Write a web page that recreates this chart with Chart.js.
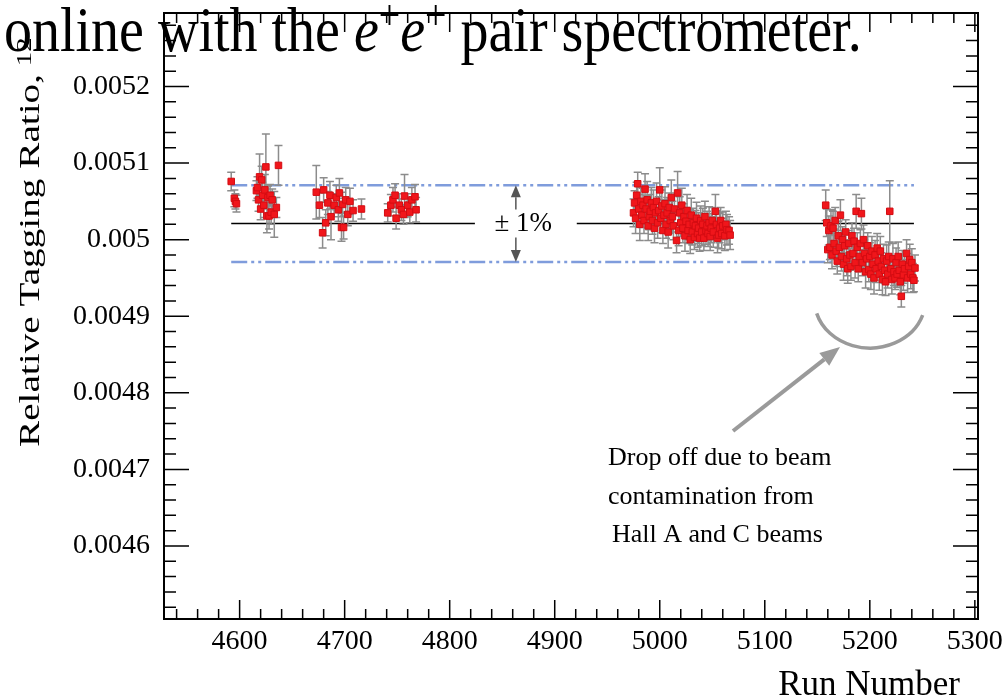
<!DOCTYPE html>
<html>
<head>
<meta charset="utf-8">
<script src="https://cdn.jsdelivr.net/npm/chart.js@4.4.1/dist/chart.umd.min.js"></script>
<style>
  html, body { margin: 0; padding: 0; background: #fff; }
  #wrap { width: 1006px; height: 700px; }
</style>
</head>
<body>
<div id="wrap"><canvas id="myChart" width="1006" height="700"></canvas></div>
<script>
'use strict';
// run numbers, tagging ratio and its error bar (one cluster per block)
let runs = [
  4592, 4595, 4596, 4597,
  4616, 4617, 4618, 4619, 4620, 4621, 4622, 4623, 4624, 4625,
  4626, 4627, 4628, 4629, 4630, 4631, 4633, 4635, 4637,
  4673, 4676, 4679, 4680, 4682, 4684, 4686, 4687, 4690, 4692,
  4694, 4695, 4697, 4698, 4699, 4701, 4703, 4705, 4708, 4716,
  4741, 4744, 4746, 4748, 4749, 4752, 4754, 4756, 4757, 4760,
  4762, 4764, 4767, 4768,
  4975, 4976, 4977, 4978, 4979, 4980, 4981, 4982, 4983, 4984,
  4985, 4986, 4987, 4988, 4989, 4990, 4991, 4992, 4993, 4994,
  4995, 4996, 4997, 4998, 4999, 5000, 5001, 5002, 5003, 5004,
  5005, 5006, 5007, 5008, 5009, 5010, 5011, 5012, 5013, 5014,
  5016, 5017, 5018, 5019, 5020, 5021, 5022, 5023, 5024, 5025,
  5026, 5027, 5028, 5029, 5030, 5031, 5032, 5033, 5034, 5035,
  5036, 5037, 5038, 5039, 5040, 5041, 5042, 5043, 5044, 5045,
  5046, 5047, 5048, 5049, 5050, 5051, 5053, 5054, 5055, 5056,
  5057, 5058, 5059, 5060, 5062, 5063, 5064, 5066, 5067,
  5158, 5159, 5160, 5161, 5162, 5163, 5164, 5165, 5166, 5167,
  5168, 5169, 5170, 5171, 5172, 5173, 5174, 5175, 5176, 5177,
  5178, 5179, 5180, 5181, 5182, 5183, 5184, 5185, 5186, 5187,
  5188, 5189, 5190, 5191, 5192, 5193, 5194, 5195, 5196, 5197,
  5198, 5199, 5200, 5201, 5202, 5203, 5204, 5205, 5206, 5207,
  5208, 5209, 5210, 5211, 5212, 5213, 5214, 5215, 5216, 5217,
  5218, 5219, 5220, 5221, 5222, 5223, 5224, 5225, 5226, 5227,
  5228, 5229, 5230, 5231, 5232, 5233, 5235, 5236, 5237, 5238,
  5239, 5240, 5241, 5242, 5243
];
let ratios = [
  0.005076, 0.005054, 0.005050, 0.005047,
  0.005064, 0.005068, 0.005052, 0.005082, 0.005040, 0.005078, 0.005058, 0.005045, 0.005065, 0.005095,
  0.005031, 0.005055, 0.005031, 0.005058, 0.005036, 0.005052, 0.005033, 0.005042, 0.005097,
  0.005062, 0.005045, 0.005009, 0.005065, 0.005022, 0.005048, 0.005058, 0.005030, 0.005045, 0.005055,
  0.005039, 0.005061, 0.005016, 0.005046, 0.005016, 0.005052, 0.005033, 0.005050, 0.005038, 0.005040,
  0.005035, 0.005045, 0.005052, 0.005058, 0.005028, 0.005045, 0.005039, 0.005033, 0.005057, 0.005045,
  0.005036, 0.005052, 0.005056, 0.005039,
  0.005035, 0.005048, 0.005028, 0.005058, 0.005073, 0.005040, 0.005020, 0.005050, 0.005032, 0.005045,
  0.005025, 0.005066, 0.005040, 0.005052, 0.005018, 0.005030, 0.005037, 0.005048, 0.005025, 0.005042,
  0.005015, 0.005035, 0.005050, 0.005022, 0.005038, 0.005065, 0.005028, 0.005044, 0.005012, 0.005032,
  0.005047, 0.005020, 0.005035, 0.005010, 0.005042, 0.005025, 0.005055, 0.005030, 0.005018, 0.005040,
  0.004999, 0.005061, 0.005012, 0.005035, 0.005022, 0.005045, 0.005015, 0.005030, 0.005005, 0.005024,
  0.005038, 0.005012, 0.005020, 0.005000, 0.005032, 0.005010, 0.005022, 0.005003, 0.005018, 0.005028,
  0.005008, 0.005015, 0.005002, 0.005025, 0.005010, 0.005020, 0.005002, 0.005030, 0.005012, 0.005018,
  0.005008, 0.005022, 0.005004, 0.005015, 0.005025, 0.005010, 0.005037, 0.005020, 0.005002, 0.005006,
  0.005015, 0.005025, 0.005008, 0.005018, 0.005005, 0.005020, 0.005013, 0.005012, 0.005006,
  0.005045, 0.005022, 0.004987, 0.005012, 0.004990, 0.005018, 0.004980, 0.005015, 0.004995, 0.005025,
  0.004985, 0.004972, 0.005005, 0.004990, 0.005032, 0.004978, 0.005000, 0.004968, 0.004992, 0.005010,
  0.004975, 0.004962, 0.004995, 0.004980, 0.004965, 0.005005, 0.004982, 0.004998, 0.004970, 0.005037,
  0.004990, 0.004962, 0.004978, 0.004995, 0.005034, 0.004970, 0.005000, 0.004982, 0.004958, 0.004975,
  0.004992, 0.004961, 0.004978, 0.004955, 0.004985, 0.004968, 0.004950, 0.004980, 0.004962, 0.004989,
  0.004972, 0.004955, 0.004985, 0.004965, 0.004948, 0.004975, 0.004960, 0.004945, 0.004972, 0.004955,
  0.004978, 0.005037, 0.004962, 0.004948, 0.004975, 0.004958, 0.004950, 0.004970, 0.004955, 0.004978,
  0.004960, 0.004945, 0.004926, 0.004968, 0.004954, 0.004962, 0.004982, 0.004950, 0.004965, 0.004974,
  0.004955, 0.004970, 0.004950, 0.004947, 0.004963
];
let errors = [
  12e-6, 11e-6, 10e-6, 11e-6,
  13e-6, 14e-6, 15e-6, 30e-6, 14e-6, 18e-6, 17e-6, 16e-6, 20e-6, 43e-6,
  22e-6, 15e-6, 17e-6, 14e-6, 16e-6, 14e-6, 30e-6, 13e-6, 26e-6,
  35e-6, 16e-6, 20e-6, 16e-6, 17e-6, 15e-6, 18e-6, 30e-6, 15e-6, 16e-6,
  15e-6, 19e-6, 18e-6, 16e-6, 15e-6, 16e-6, 15e-6, 17e-6, 14e-6, 13e-6,
  12e-6, 14e-6, 16e-6, 15e-6, 14e-6, 15e-6, 14e-6, 13e-6, 28e-6, 15e-6,
  14e-6, 16e-6, 16e-6, 16e-6,
  18e-6, 16e-6, 20e-6, 17e-6, 15e-6, 19e-6, 21e-6, 18e-6, 16e-6, 22e-6,
  17e-6, 20e-6, 18e-6, 24e-6, 19e-6, 17e-6, 22e-6, 20e-6, 18e-6, 23e-6,
  19e-6, 17e-6, 24e-6, 20e-6, 18e-6, 29e-6, 19e-6, 21e-6, 17e-6, 20e-6,
  22e-6, 18e-6, 20e-6, 21e-6, 19e-6, 17e-6, 23e-6, 20e-6, 18e-6, 21e-6,
  16e-6, 28e-6, 20e-6, 21e-6, 18e-6, 22e-6, 19e-6, 17e-6, 20e-6, 18e-6,
  21e-6, 17e-6, 20e-6, 18e-6, 22e-6, 17e-6, 19e-6, 16e-6, 20e-6, 21e-6,
  18e-6, 20e-6, 17e-6, 19e-6, 18e-6, 21e-6, 16e-6, 20e-6, 18e-6, 19e-6,
  17e-6, 21e-6, 18e-6, 19e-6, 17e-6, 20e-6, 22e-6, 18e-6, 19e-6, 17e-6,
  19e-6, 17e-6, 20e-6, 18e-6, 19e-6, 17e-6, 20e-6, 18e-6, 19e-6,
  20e-6, 18e-6, 17e-6, 19e-6, 16e-6, 21e-6, 18e-6, 22e-6, 19e-6, 17e-6,
  20e-6, 17e-6, 19e-6, 18e-6, 20e-6, 19e-6, 17e-6, 21e-6, 18e-6, 16e-6,
  22e-6, 19e-6, 17e-6, 20e-6, 18e-6, 17e-6, 19e-6, 17e-6, 20e-6, 22e-6,
  19e-6, 17e-6, 20e-6, 18e-6, 20e-6, 17e-6, 19e-6, 18e-6, 21e-6, 19e-6,
  17e-6, 16e-6, 18e-6, 20e-6, 19e-6, 17e-6, 21e-6, 19e-6, 18e-6, 19e-6,
  17e-6, 21e-6, 19e-6, 18e-6, 20e-6, 19e-6, 17e-6, 18e-6, 21e-6, 18e-6,
  19e-6, 40e-6, 17e-6, 19e-6, 20e-6, 18e-6, 15e-6, 19e-6, 17e-6, 19e-6,
  20e-6, 17e-6, 14e-6, 18e-6, 20e-6, 19e-6, 18e-6, 19e-6, 17e-6, 20e-6,
  19e-6, 18e-6, 19e-6, 15e-6, 17e-6
];
// mean ratio and the +-1% band
let meanRatio = 0.005021;
let bandRatios = [0.0050712, 0.0049708];
let lineRuns = [4592, 5242];
let labelGapRuns = [4824, 4921];
let xRange = [4528, 5303];
let yRange = [0.0045046, 0.005296];

let chartEl = document.getElementById('myChart');
let ctx = chartEl.getContext('2d');
const SERIF = '"Liberation Serif", "Times New Roman", serif';
Chart.defaults.font.family = SERIF;
Chart.defaults.color = '#000';

let points = [];
for (let i = 0; i < runs.length; i++) {
  points.push({ x: runs[i], y: ratios[i] });
}
let meanLine = [
  { x: lineRuns[0], y: meanRatio }, { x: labelGapRuns[0], y: meanRatio },
  { x: (labelGapRuns[0] + labelGapRuns[1]) / 2, y: null },
  { x: labelGapRuns[1], y: meanRatio }, { x: lineRuns[1], y: meanRatio }
];
const BLUE = '#7f9cdc';
const DASH = [16, 4, 3, 4, 3, 4];

// gray error bars, drawn just before the red markers
const errorBars = {
  id: 'errorBars',
  beforeDatasetDraw(chart, args) {
    if (args.index !== 0) return;
    const { x, y } = chart.scales;
    const c = chart.ctx;
    c.save();
    c.strokeStyle = '#8c8c8c';
    c.lineWidth = 1.5;
    c.beginPath();
    for (let i = 0; i < runs.length; i++) {
      const px = x.getPixelForValue(runs[i]);
      const top = y.getPixelForValue(ratios[i] + errors[i]);
      const bot = y.getPixelForValue(ratios[i] - errors[i]);
      c.moveTo(px, top); c.lineTo(px, bot);
      c.moveTo(px - 4, top); c.lineTo(px + 4, top);
      c.moveTo(px - 4, bot); c.lineTo(px + 4, bot);
    }
    c.stroke();
    c.restore();
  }
};

// ROOT style frame with inward ticks on all four sides
const frame = {
  id: 'frame',
  afterDatasetsDraw(chart) {
    const { chartArea: a, scales: { x, y } } = chart;
    const c = chart.ctx;
    c.save();
    c.strokeStyle = '#000';
    c.lineWidth = 1.5;
    c.beginPath();
    for (let k = Math.ceil(x.min / 20); k * 20 <= x.max; k++) {
      const px = x.getPixelForValue(k * 20);
      const len = (k % 5 === 0) ? 19 : 10;
      c.moveTo(px, a.bottom); c.lineTo(px, a.bottom - len);
      c.moveTo(px, a.top); c.lineTo(px, a.top + len);
    }
    for (let k = Math.ceil(y.min / 2e-5 - 1e-6); k * 2e-5 <= y.max + 1e-12; k++) {
      const py = y.getPixelForValue(k * 2e-5);
      const len = (k % 5 === 0) ? 25 : 12;
      c.moveTo(a.left, py); c.lineTo(a.left + len, py);
      c.moveTo(a.right, py); c.lineTo(a.right - len, py);
    }
    c.stroke();
    c.lineWidth = 2;
    c.strokeRect(a.left, a.top, a.right - a.left, a.bottom - a.top);
    c.restore();
  }
};

function arrow(c, x1, y1, x2, y2, head, half) {
  const ang = Math.atan2(y2 - y1, x2 - x1);
  const cs = Math.cos(ang), sn = Math.sin(ang);
  c.beginPath();
  c.moveTo(x1, y1);
  c.lineTo(x2 - head * cs, y2 - head * sn);
  c.stroke();
  c.beginPath();
  c.moveTo(x2, y2);
  c.lineTo(x2 - head * cs + half * sn, y2 - head * sn - half * cs);
  c.lineTo(x2 - head * cs - half * sn, y2 - head * sn + half * cs);
  c.closePath();
  c.fill();
}

// labels, arrows and the caption text around the plot
const notes = {
  id: 'notes',
  afterDraw(chart) {
    const { x, y } = chart.scales;
    const c = chart.ctx;
    c.save();

    // +-1% label with arrows to the band lines
    const my = y.getPixelForValue(meanRatio);
    const ax = x.getPixelForValue(4863);
    c.fillStyle = '#000';
    c.font = '27px ' + SERIF;
    c.textAlign = 'center';
    c.textBaseline = 'middle';
    c.fillText('\u00b1 1%', x.getPixelForValue(4870), my);
    c.strokeStyle = '#555';
    c.fillStyle = '#555';
    c.lineWidth = 1.5;
    arrow(c, ax, my - 14, ax, y.getPixelForValue(bandRatios[0]), 12, 5);
    arrow(c, ax, my + 14, ax, y.getPixelForValue(bandRatios[1]), 12, 5);

    // curve under the last cluster and arrow to it
    c.strokeStyle = '#9a9a9a';
    c.fillStyle = '#9a9a9a';
    c.lineWidth = 3.5;
    c.beginPath();
    c.ellipse(870, 300, 55.5, 48, 0, 0.32, 2.86);
    c.stroke();
    c.lineWidth = 4;
    arrow(c, 733, 431, 840, 347, 20, 8);

    c.fillStyle = '#000';
    c.textAlign = 'left';
    c.textBaseline = 'alphabetic';
    c.font = '26px ' + SERIF;
    c.fillText('Drop off due to beam', 608, 465);
    c.fillText('contamination from', 608, 504);
    c.fillText('Hall A and C beams', 612, 542);

    // axis titles
    c.font = '35px ' + SERIF;
    c.textAlign = 'right';
    c.fillText('Run Number', 960, 695);

    c.save();
    c.translate(39, 447);
    c.rotate(-Math.PI / 2);
    c.textAlign = 'left';
    c.font = '30px ' + SERIF;
    const title = 'Relative Tagging Ratio,';
    const w = c.measureText(title).width;
    c.scale(373 / w, 1);
    c.fillText(title, 0, 0);
    c.font = '22px ' + SERIF;
    c.fillText('12', w + 6, -8);
    c.restore();

    // running text of the page overlapping the top of the figure
    c.save();
    c.translate(0, 51);
    c.scale(1, 1.12);
    let tx = 4;
    const parts = [
      ['online with the ', '56px ' + SERIF, 0],
      ['e', 'italic 56px ' + SERIF, 0],
      ['+', '38px ' + SERIF, -20],
      ['e', 'italic 56px ' + SERIF, 0],
      ['+', '38px ' + SERIF, -20],
      [' pair spectrometer.', '56px ' + SERIF, 0]
    ];
    c.textAlign = 'left';
    for (const p of parts) {
      c.font = p[1];
      c.fillText(p[0], tx, p[2]);
      tx += c.measureText(p[0]).width;
    }
    c.restore();
    c.restore();
  }
};

new Chart(ctx, {
  type: 'scatter',
  data: {
    datasets: [{
      label: 'Relative tagging ratio',
      data: points,
      pointStyle: 'rect',
      pointRadius: 4.6,
      backgroundColor: '#f0161b',
      borderColor: '#d40c12',
      borderWidth: 1,
      order: 0
    }, {
      label: 'mean',
      data: meanLine,
      showLine: true,
      spanGaps: false,
      borderColor: '#000',
      borderWidth: 1.5,
      pointRadius: 0,
      order: 1
    }, {
      label: '+1%',
      data: [{ x: lineRuns[0], y: bandRatios[0] }, { x: lineRuns[1], y: bandRatios[0] }],
      showLine: true,
      borderColor: BLUE,
      borderWidth: 2.5,
      borderDash: DASH,
      pointRadius: 0,
      order: 2
    }, {
      label: '-1%',
      data: [{ x: lineRuns[0], y: bandRatios[1] }, { x: lineRuns[1], y: bandRatios[1] }],
      showLine: true,
      borderColor: BLUE,
      borderWidth: 2.5,
      borderDash: DASH,
      pointRadius: 0,
      order: 3
    }]
  },
  options: {
    responsive: false,
    animation: false,
    devicePixelRatio: 1,
    layout: { padding: { top: 13, right: 28, left: 0, bottom: 0 } },
    plugins: { legend: { display: false }, tooltip: { enabled: false } },
    scales: {
      x: {
        type: 'linear',
        min: xRange[0],
        max: xRange[1],
        afterFit(s) { s.height = 81; s.paddingLeft = 0; s.paddingRight = 0; },
        grid: { display: false, drawTicks: false },
        border: { display: false },
        ticks: {
          stepSize: 100,
          includeBounds: false,
          autoSkip: false,
          maxRotation: 0,
          padding: 6,
          font: { size: 28 },
          callback: v => String(v)
        }
      },
      y: {
        min: yRange[0],
        max: yRange[1],
        afterFit(s) { s.width = 164; s.paddingTop = 0; s.paddingBottom = 0; },
        grid: { display: false, drawTicks: false },
        border: { display: false },
        ticks: {
          stepSize: 0.0001,
          includeBounds: false,
          padding: 14,
          font: { size: 28 },
          callback: v => String(+v.toFixed(4))
        }
      }
    }
  },
  plugins: [errorBars, frame, notes]
});
</script>
</body>
</html>
